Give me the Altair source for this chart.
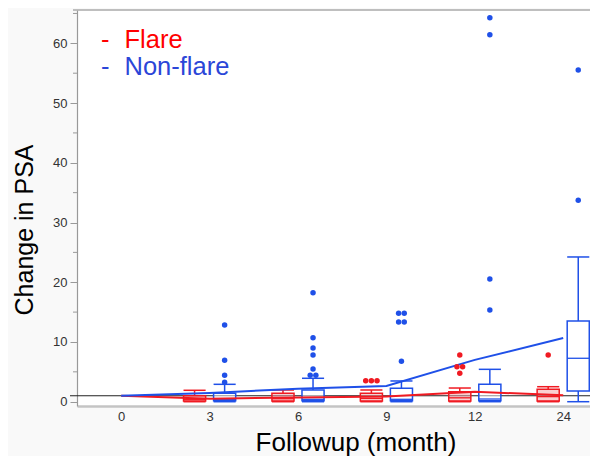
import altair as alt
import pandas as pd

MONTHS = [0, 3, 6, 9, 12, 24]
GROUPS = ["Flare", "Non-flare"]

# mean trajectories
FLARE_MEAN = [1.0, 0.5, 0.7, 0.85, 1.65, 1.1]
NONFLARE_MEAN = [1.0, 1.46, 2.18, 2.63, 7.0, 10.66]

# box statistics
BOX_MONTHS = [3, 6, 9, 12, 24]
FLARE_WLO = [0.0, 0.0, 0.0, 0.0, 0.0]
FLARE_Q1 = [0.1, 0.1, 0.1, 0.1, 0.1]
FLARE_MED = [0.4, 0.5, 0.55, 0.65, 0.85]
FLARE_Q3 = [1.0, 1.41, 1.41, 1.67, 2.08]
FLARE_WHI = [1.91, 1.96, 1.96, 2.29, 2.51]

NONFLARE_WLO = [0.0, 0.0, 0.0, 0.0, 0.0]
NONFLARE_Q1 = [0.15, 0.15, 0.15, 0.15, 1.79]
NONFLARE_MED = [0.4, 0.4, 0.4, 0.45, 7.27]
NONFLARE_Q3 = [1.41, 1.96, 2.24, 2.91, 13.51]
NONFLARE_WHI = [2.91, 3.92, 3.47, 5.42, 24.23]

# outliers
FLARE_OUT_MONTH = [9, 9, 9, 12, 12, 12, 12, 24]
FLARE_OUT_VAL = [3.52, 3.52, 3.52, 7.82, 5.86, 5.86, 4.76, 7.82]
FLARE_OUT_SLOT = [-1, 0, 1, 0, -0.5, 0.5, 0, 0]

NONFLARE_OUT_MONTH = [3, 3, 3, 3, 6, 6, 6, 6, 6, 6, 6, 9, 9, 9, 9, 9, 12, 12, 12, 12, 24, 24]
NONFLARE_OUT_VAL = [12.84, 6.93, 4.42, 3.25, 18.25, 10.71, 8.99, 7.82, 5.46, 4.42, 4.42,
                    14.8, 14.8, 13.34, 13.34, 6.76, 64.29, 61.44, 20.54, 15.35, 55.53, 33.72]
NONFLARE_OUT_SLOT = [0, 0, 0, 0, 0, 0, 0, 0, 0, -0.5, 0.5, -0.5, 0.5, -0.5, 0.5, 0,
                     0, 0, 0, 0, 0, 0]

REF_LEVEL = [1]
Y_TICKS = [0, 10, 20, 30, 40, 50, 60]
Y_MINOR = [5, 15, 25, 35, 45, 55, 65]

RED = "#f01a22"
BLUE = "#1f50e8"
LEG_RED = "#ff0000"
LEG_BLUE = "#2b46d8"

W, H = 513, 396
OFFSET = {"Flare": -0.17, "Non-flare": 0.17}
HALF = 0.125
DOT_STEP = 0.064

xscale = alt.Scale(domain=[-0.5, 5.303], nice=False, zero=False)
yscale = alt.Scale(domain=[-0.72, 65.58], nice=False, zero=False)
label_expr = "[" + ",".join("'%s'" % m for m in MONTHS) + "][datum.value]"

xaxis = alt.Axis(values=list(range(len(MONTHS))), labelExpr=label_expr,
                 title="Followup (month)", ticks=False, grid=False,
                 labelFontSize=13, labelColor="#333", labelPadding=4,
                 labelFont="Liberation Sans",
                 domainColor="#c4c4c4", domainWidth=2.5,
                 titleFontSize=26, titleFontWeight="normal", titleColor="black",
                 titleFont="Liberation Sans", titleX=278.5, titleY=44,
                 titleAlign="center", titleBaseline="alphabetic")
yaxis = alt.Axis(values=Y_TICKS, title="Change in PSA", grid=False,
                 tickSize=7, tickColor="#999", domainColor="#999", domainWidth=1.2,
                 labelFontSize=13, labelColor="#333", labelPadding=3,
                 labelFont="Liberation Sans",
                 titleFontSize=25, titleFontWeight="normal", titleColor="black",
                 titleFont="Liberation Sans", titleAngle=270, titleX=-45, titleY=219.5,
                 titleAlign="center", titleBaseline="alphabetic")


def X(f):
    return alt.X(f, type="quantitative", scale=xscale, axis=xaxis)


def Y(f):
    return alt.Y(f, type="quantitative", scale=yscale, axis=yaxis)


color_scale = alt.Scale(domain=GROUPS, range=[RED, BLUE])
fill_scale = alt.Scale(domain=GROUPS, range=["#f6a0a4", "white"])

# tables built from the lists
mean_rows = []
for g, vals in zip(GROUPS, [FLARE_MEAN, NONFLARE_MEAN]):
    for i, v in enumerate(vals):
        mean_rows.append({"group": g, "idx": i, "value": v})
mean_df = pd.DataFrame(mean_rows)

box_rows = []
for g, wlo, q1, med, q3, whi in [
    ("Flare", FLARE_WLO, FLARE_Q1, FLARE_MED, FLARE_Q3, FLARE_WHI),
    ("Non-flare", NONFLARE_WLO, NONFLARE_Q1, NONFLARE_MED, NONFLARE_Q3, NONFLARE_WHI),
]:
    for k, m in enumerate(BOX_MONTHS):
        c = MONTHS.index(m) + OFFSET[g]
        box_rows.append({"group": g, "c": c, "l": c - HALF, "r": c + HALF,
                         "wlo": wlo[k], "q1": q1[k], "med": med[k], "q3": q3[k], "whi": whi[k]})
box_df = pd.DataFrame(box_rows)

out_rows = []
for g, ms, vs, ss in [
    ("Flare", FLARE_OUT_MONTH, FLARE_OUT_VAL, FLARE_OUT_SLOT),
    ("Non-flare", NONFLARE_OUT_MONTH, NONFLARE_OUT_VAL, NONFLARE_OUT_SLOT),
]:
    for m, v, s in zip(ms, vs, ss):
        out_rows.append({"group": g, "x": MONTHS.index(m) + OFFSET[g] + s * DOT_STEP, "value": v})
out_df = pd.DataFrame(out_rows)

col = alt.Color("group:N", scale=color_scale, legend=None)
stk = alt.Stroke("group:N", scale=color_scale, legend=None)
fil = alt.Fill("group:N", scale=fill_scale, legend=None)

ref = alt.Chart(pd.DataFrame({"ref": REF_LEVEL})).mark_rule(color="#222", strokeWidth=1.2).encode(
    y=Y("ref"), x=alt.value(-7), x2=alt.value(W))

minor = alt.Chart(pd.DataFrame({"m": Y_MINOR})).mark_rule(color="#999", strokeWidth=1).encode(
    y=Y("m"), x=alt.value(-4), x2=alt.value(0))

top_border = alt.Chart(pd.DataFrame({"a": [0]})).mark_rule(color="#aaa", strokeWidth=1.5).encode(
    y=alt.value(0), x=alt.value(-4), x2=alt.value(W))

boxes = alt.Chart(box_df).mark_rect(fillOpacity=0.5, strokeWidth=1.5).encode(
    x=X("l"), x2="r", y=Y("q1"), y2="q3", stroke=stk, fill=fil)
medians = alt.Chart(box_df).mark_rule(strokeWidth=1.3).encode(
    x=X("l"), x2="r", y=Y("med"), color=col)
whisk_hi = alt.Chart(box_df).mark_rule(strokeWidth=1.5).encode(
    x=X("c"), y=Y("q3"), y2="whi", color=col)
whisk_lo = alt.Chart(box_df).mark_rule(strokeWidth=1.5).encode(
    x=X("c"), y=Y("wlo"), y2="q1", color=col)
cap_hi = alt.Chart(box_df).mark_rule(strokeWidth=1.5).encode(
    x=X("l"), x2="r", y=Y("whi"), color=col)
cap_lo = alt.Chart(box_df).mark_rule(strokeWidth=1.5).encode(
    x=X("l"), x2="r", y=Y("wlo"), color=col)

lines = alt.Chart(mean_df).mark_line(strokeWidth=2).encode(
    x=X("idx"), y=Y("value"), color=col, detail="group:N")

dots = alt.Chart(out_df).mark_circle(size=30, opacity=1).encode(
    x=X("x"), y=Y("value"), color=col)

leg_layers = []
for g, c, yb in [("Flare", LEG_RED, 38.3), ("Non-flare", LEG_BLUE, 65)]:
    d = pd.DataFrame({"t": [g], "dash": ["-"]})
    leg_layers.append(alt.Chart(d).mark_text(align="left", baseline="alphabetic", fontSize=25.5,
                                             font="Liberation Sans", color=c).encode(
        text="dash:N", x=alt.value(24), y=alt.value(yb)))
    leg_layers.append(alt.Chart(d).mark_text(align="left", baseline="alphabetic", fontSize=25.5,
                                             font="Liberation Sans", color=c).encode(
        text="t:N", x=alt.value(47.5), y=alt.value(yb)))

chart = alt.layer(ref, minor, top_border, boxes, medians, whisk_hi, whisk_lo, cap_hi, cap_lo,
                  lines, dots, *leg_layers).properties(
    width=W, height=H,
    autosize=alt.AutoSizeParams(type="none"),
    padding={"left": 69, "top": 2, "right": 0, "bottom": 50},
    background="#f9f9f9",
).configure_view(fill="white", strokeWidth=0)

chart.save("out.html", embed_options={"renderer": "svg", "actions": False})
